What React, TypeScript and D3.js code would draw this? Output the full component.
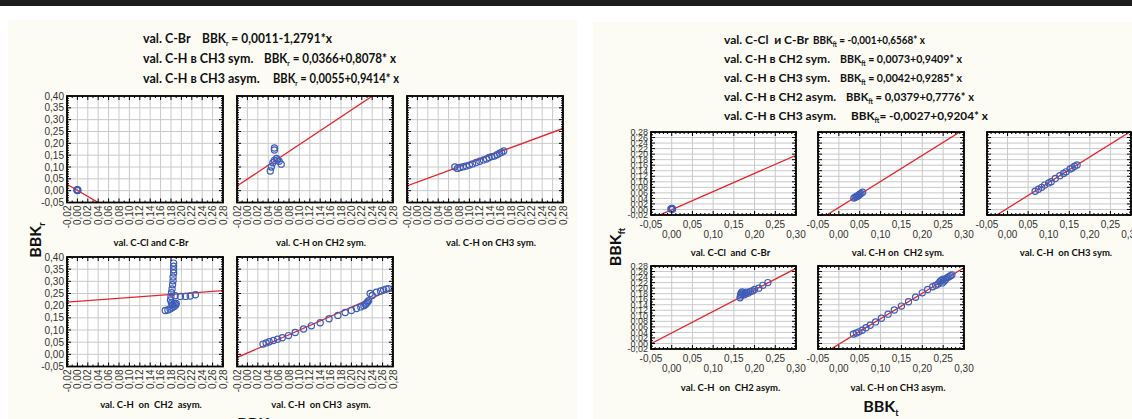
import React from "react";
import * as d3 from "d3";

type Pt = [number, number];

// ---------- LEFT PANEL (BBK_r) ----------
const leftXTicks = [-0.02, 0, 0.02, 0.04, 0.06, 0.08, 0.1, 0.12, 0.14, 0.16, 0.18, 0.2, 0.22, 0.24, 0.26, 0.28];
const leftYTicks = [-0.05, 0, 0.05, 0.1, 0.15, 0.2, 0.25, 0.3, 0.35, 0.4];

const lCClBr: Pt[] = [[0.0, 0.004], [0.001, 0.002], [-0.001, 0.003], [0.0, 0.001]];
const lCH2sym: Pt[] = [[0.044, 0.083], [0.046, 0.1], [0.049, 0.118], [0.052, 0.128], [0.056, 0.136], [0.052, 0.172], [0.052, 0.18], [0.058, 0.13], [0.061, 0.124], [0.065, 0.112]];
const lCH3sym: Pt[] = [[0.072, 0.1], [0.077, 0.094], [0.082, 0.098], [0.088, 0.101], [0.094, 0.104], [0.1, 0.108], [0.106, 0.113], [0.113, 0.119], [0.12, 0.124], [0.127, 0.13], [0.133, 0.134], [0.138, 0.14], [0.143, 0.144], [0.148, 0.146], [0.153, 0.152], [0.158, 0.158], [0.162, 0.162], [0.166, 0.168]];
const lCH2asym: Pt[] = [[0.185, 0.375], [0.185, 0.362], [0.185, 0.348], [0.185, 0.334], [0.184, 0.318], [0.184, 0.302], [0.183, 0.286], [0.182, 0.269], [0.181, 0.253], [0.18, 0.238], [0.179, 0.223], [0.181, 0.211], [0.183, 0.204], [0.186, 0.209], [0.188, 0.241], [0.198, 0.238], [0.208, 0.238], [0.217, 0.24], [0.227, 0.245], [0.169, 0.18], [0.174, 0.182], [0.178, 0.186], [0.182, 0.191], [0.186, 0.197], [0.189, 0.203], [0.19, 0.209]];
const lCH3asym: Pt[] = [[0.03, 0.042], [0.036, 0.047], [0.042, 0.052], [0.05, 0.057], [0.058, 0.062], [0.067, 0.068], [0.079, 0.077], [0.092, 0.09], [0.108, 0.104], [0.123, 0.117], [0.14, 0.13], [0.157, 0.146], [0.174, 0.16], [0.188, 0.172], [0.2, 0.18], [0.21, 0.188], [0.218, 0.195], [0.224, 0.2], [0.227, 0.205], [0.229, 0.21], [0.231, 0.215], [0.233, 0.22], [0.236, 0.25], [0.24, 0.242], [0.248, 0.255], [0.256, 0.26], [0.262, 0.265], [0.267, 0.268], [0.271, 0.27]];

// regression coefficients [intercept, slope]
const lCoefCClBr: Pt = [0.0011, -1.2791];
const lCoefCH2sym: Pt = [0.049, 1.46];
const lCoefCH3sym: Pt = [0.0366, 0.8078];
const lCoefCH2asym: Pt = [0.218, 0.157];
const lCoefCH3asym: Pt = [0.0055, 0.9414];

const leftTitles = [
  { name: "val. C-Br", sub: "r", eq: " = 0,0011-1,2791*x" },
  { name: "val. C-H в CH3 sym.", sub: "r", eq: " = 0,0366+0,8078* x" },
  { name: "val. C-H в CH3 asym.", sub: "r", eq: " = 0,0055+0,9414* x" },
];
const leftSubtitles = ["val. C-Cl and C-Br", "val. C-H on CH2 sym.", "val. C-H on CH3 sym.", "val. C-H  on  CH2  asym.", "val. C-H  on CH3  asym."];

// ---------- RIGHT PANEL (BBK_ft) ----------
const rightXTicks = [-0.05, 0, 0.05, 0.1, 0.15, 0.2, 0.25, 0.3];
const rightYTicks = [-0.02, 0, 0.02, 0.04, 0.06, 0.08, 0.1, 0.12, 0.14, 0.16, 0.18, 0.2, 0.22, 0.24, 0.26, 0.28];

const rCClBr: Pt[] = [[0.0, 0.003], [0.002, 0.001], [-0.002, 0.002], [0.001, 0.004]];
const rCH2sym: Pt[] = [[0.036, 0.041], [0.039, 0.044], [0.042, 0.046], [0.044, 0.048], [0.046, 0.05], [0.048, 0.052], [0.05, 0.055], [0.053, 0.058], [0.057, 0.062]];
const rCH3sym: Pt[] = [[0.067, 0.066], [0.075, 0.073], [0.083, 0.08], [0.09, 0.088], [0.1, 0.096], [0.106, 0.1], [0.116, 0.112], [0.127, 0.122], [0.136, 0.13], [0.142, 0.136], [0.152, 0.146], [0.157, 0.15], [0.163, 0.156], [0.169, 0.161]];
const rCH2asym: Pt[] = [[0.165, 0.165], [0.166, 0.172], [0.167, 0.178], [0.168, 0.183], [0.17, 0.186], [0.172, 0.18], [0.175, 0.176], [0.178, 0.18], [0.18, 0.185], [0.185, 0.182], [0.19, 0.188], [0.195, 0.19], [0.2, 0.195], [0.21, 0.2], [0.22, 0.21], [0.232, 0.22]];
const rCH3asym: Pt[] = [[0.035, 0.034], [0.042, 0.038], [0.048, 0.042], [0.056, 0.048], [0.065, 0.057], [0.075, 0.066], [0.088, 0.078], [0.102, 0.091], [0.118, 0.106], [0.133, 0.121], [0.15, 0.135], [0.167, 0.151], [0.184, 0.167], [0.2, 0.183], [0.213, 0.195], [0.225, 0.205], [0.232, 0.21], [0.238, 0.215], [0.242, 0.222], [0.245, 0.228], [0.248, 0.219], [0.25, 0.232], [0.253, 0.226], [0.256, 0.232], [0.26, 0.238], [0.264, 0.241], [0.268, 0.245], [0.271, 0.248]];

const rCoefCClBr: Pt = [-0.001, 0.6568];
const rCoefCH2sym: Pt = [0.0073, 0.9409];
const rCoefCH3sym: Pt = [0.0042, 0.9285];
const rCoefCH2asym: Pt = [0.0379, 0.7776];
const rCoefCH3asym: Pt = [-0.0027, 0.9204];

const rightTitles = [
  { name: "val. C-Cl  и C-Br", sub: "ft", eq: " = -0,001+0,6568* x" },
  { name: "val. C-H в CH2 sym.", sub: "ft", eq: " = 0,0073+0,9409* x" },
  { name: "val. C-H в CH3 sym.", sub: "ft", eq: " = 0,0042+0,9285* x" },
  { name: "val. C-H в CH2 asym.", sub: "ft", eq: " = 0,0379+0,7776* x" },
  { name: "val. C-H в CH3 asym.", sub: "ft", eq: "= -0,0027+0,9204* x" },
];
const rightSubtitles = ["val. C-Cl  and  C-Br", "val. C-H on  CH2 sym.", "val. C-H  on CH3 sym.", "val. C-H  on  CH2 asym.", "val. C-H on CH3 asym."];

// ---------- styling ----------
const TICK_FONT = "'Liberation Sans', Arial, sans-serif";
const TITLE_FONT = "Lato, 'Open Sans', sans-serif";
const LINE_COLOR = "#e8252b";
const PT_COLOR = "#3e5db8";
const GRID = "#c9c9c9";

const fmt = (v: number) => {
  const s = Math.abs(v).toFixed(2).replace(".", ",");
  return (v < -1e-9 ? "-" : "") + s;
};

type Frame = { x: number; y: number; w: number; h: number };

function Plot(props: {
  id: string;
  f: Frame;
  xd: [number, number];
  yd: [number, number];
  xt: number[];
  yt: number[];
  xMinor: number;
  yMinor: number;
  pts: Pt[];
  coef: Pt;
  mode: "rotated" | "staggered";
  yFont: number;
  showY: boolean;
}) {
  const { id, f, xd, yd, xt, yt, xMinor, yMinor, pts, coef, mode, yFont, showY } = props;
  const xs = d3.scaleLinear().domain(xd).range([f.x, f.x + f.w]);
  const ys = d3.scaleLinear().domain(yd).range([f.y + f.h, f.y]);
  const line = d3
    .line<number>()
    .x((v) => xs(v))
    .y((v) => ys(coef[0] + coef[1] * v));
  const xMin = d3.range(Math.round((xd[1] - xd[0]) / xMinor) + 1).map((i) => xd[0] + i * xMinor);
  const yMin = d3.range(Math.round((yd[1] - yd[0]) / yMinor) + 1).map((i) => yd[0] + i * yMinor);
  const bottom = f.y + f.h;
  const right = f.x + f.w;
  return (
    <g>
      <defs>
        <clipPath id={id}>
          <rect x={f.x} y={f.y} width={f.w} height={f.h} />
        </clipPath>
      </defs>
      <rect x={f.x} y={f.y} width={f.w} height={f.h} fill="#ffffff" />
      {xt.map((v, i) => (
        <line key={"gx" + i} x1={xs(v)} x2={xs(v)} y1={f.y} y2={bottom} stroke={GRID} strokeWidth={1} />
      ))}
      {yt.map((v, i) => (
        <line key={"gy" + i} x1={f.x} x2={right} y1={ys(v)} y2={ys(v)} stroke={GRID} strokeWidth={1} />
      ))}
      <g clipPath={`url(#${id})`}>
        <path d={line(xd) || ""} stroke={LINE_COLOR} strokeWidth={1.3} fill="none" />
        {pts.map((p, i) => (
          <circle key={"p" + i} cx={xs(p[0])} cy={ys(p[1])} r={3.1} fill="none" stroke={PT_COLOR} strokeWidth={1.2} />
        ))}
      </g>
      {xMin.map((v, i) => {
        const major = xt.some((t) => Math.abs(t - v) < 1e-6);
        const l = major ? 4 : 2;
        return (
          <g key={"tx" + i}>
            <line x1={xs(v)} x2={xs(v)} y1={f.y} y2={f.y + l} stroke="#000" strokeWidth={1} />
            <line x1={xs(v)} x2={xs(v)} y1={bottom} y2={bottom - l} stroke="#000" strokeWidth={1} />
          </g>
        );
      })}
      {yMin.map((v, i) => {
        const major = yt.some((t) => Math.abs(t - v) < 1e-6);
        const l = major ? 4 : 2;
        return (
          <g key={"ty" + i}>
            <line x1={f.x} x2={f.x + l} y1={ys(v)} y2={ys(v)} stroke="#000" strokeWidth={1} />
            <line x1={right} x2={right - l} y1={ys(v)} y2={ys(v)} stroke="#000" strokeWidth={1} />
          </g>
        );
      })}
      <rect x={f.x} y={f.y} width={f.w} height={f.h} fill="none" stroke="#000" strokeWidth={1.8} />
      {showY &&
        yt.map((v, i) => (
          <text key={"yl" + i} x={f.x - 3} y={ys(v)} dy="0.35em" textAnchor="end" fontSize={yFont} fontFamily={TICK_FONT} fill="#333">
            {fmt(v)}
          </text>
        ))}
      {mode === "rotated"
        ? xt.map((v, i) => (
            <text
              key={"xl" + i}
              transform={`translate(${xs(v)},${bottom + 3}) rotate(-90)`}
              dy="0.35em"
              textAnchor="end"
              fontSize={10}
              fontFamily={TICK_FONT}
              fill="#333"
            >
              {fmt(v)}
            </text>
          ))
        : xt.map((v, i) => (
            <text key={"xl" + i} x={xs(v)} y={bottom + (i % 2 === 0 ? 13 : 23)} textAnchor="middle" fontSize={10} fontFamily={TICK_FONT} fill="#333">
              {fmt(v)}
            </text>
          ))}
    </g>
  );
}

function Title(props: { x: number; eqX: number; eqW: number; y: number; size: number; t: { name: string; sub: string; eq: string } }) {
  const { x, eqX, eqW, y, t, size } = props;
  return (
    <g fontFamily={TITLE_FONT} fontWeight="bold" fill="#111" fontSize={size}>
      <text x={x} y={y} style={{ whiteSpace: "pre" }}>{t.name}</text>
      <text x={eqX} y={y} textLength={eqW} lengthAdjust="spacingAndGlyphs">
        BBK
        <tspan fontSize={7} dy={3}>{t.sub}</tspan>
        <tspan dy={-3}>{t.eq}</tspan>
      </text>
    </g>
  );
}

export default function App() {
  const LF = { top: { y: 96, h: 106.5 }, bot: { y: 257, h: 109.5 } };
  const lx = [67, 237, 407];
  const lw = 156;
  const rTopY = 132;
  const rBotY = 266;
  const rh = 83;
  const rx = [651, 818, 987];
  const rw = [145, 146, 144];

  const leftPlots = [
    { pts: lCClBr, coef: lCoefCClBr, f: { x: lx[0], y: LF.top.y, w: lw, h: LF.top.h } },
    { pts: lCH2sym, coef: lCoefCH2sym, f: { x: lx[1], y: LF.top.y, w: lw, h: LF.top.h } },
    { pts: lCH3sym, coef: lCoefCH3sym, f: { x: lx[2], y: LF.top.y, w: lw, h: LF.top.h } },
    { pts: lCH2asym, coef: lCoefCH2asym, f: { x: lx[0], y: LF.bot.y, w: lw, h: LF.bot.h } },
    { pts: lCH3asym, coef: lCoefCH3asym, f: { x: lx[1], y: LF.bot.y, w: lw, h: LF.bot.h } },
  ];
  const rightPlots = [
    { pts: rCClBr, coef: rCoefCClBr, f: { x: rx[0], y: rTopY, w: rw[0], h: rh } },
    { pts: rCH2sym, coef: rCoefCH2sym, f: { x: rx[1], y: rTopY, w: rw[1], h: rh } },
    { pts: rCH3sym, coef: rCoefCH3sym, f: { x: rx[2], y: rTopY, w: rw[2], h: rh } },
    { pts: rCH2asym, coef: rCoefCH2asym, f: { x: rx[0], y: rBotY, w: rw[0], h: rh } },
    { pts: rCH3asym, coef: rCoefCH3asym, f: { x: rx[1], y: rBotY, w: rw[1], h: rh } },
  ];
  const leftEqX = [202, 264, 273];
  const leftEqW = [130, 132, 126];
  const rightEqX = [813, 840, 840, 846, 851];
  const rightEqW = [112, 122, 122, 128, 137];
  const leftTitleY = [43, 63, 83];
  const rightTitleY = [44, 63, 82, 101, 120];

  return (
    <svg width={1132} height={419} style={{ position: "absolute", left: 0, top: 0, display: "block", background: "#fff" }}>
      <rect x={0} y={0} width={1132} height={6} fill="#1c1c1c" />
      <rect x={8} y={20} width={569} height={399} fill="#fcfcf5" />
      <rect x={593} y={22} width={539} height={397} fill="#fcfcf5" />

      {leftTitles.map((t, i) => (
        <Title key={"lt" + i} x={143} eqX={leftEqX[i]} eqW={leftEqW[i]} y={leftTitleY[i]} size={12.5} t={t} />
      ))}
      {rightTitles.map((t, i) => (
        <Title key={"rt" + i} x={724} eqX={rightEqX[i]} eqW={rightEqW[i]} y={rightTitleY[i]} size={12} t={t} />
      ))}

      {leftPlots.map((p, i) => (
        <Plot
          key={"lp" + i}
          id={"clipL" + i}
          f={p.f}
          xd={[-0.02, 0.28]}
          yd={[-0.05, 0.4]}
          xt={leftXTicks}
          yt={leftYTicks}
          xMinor={0.01}
          yMinor={0.01}
          pts={p.pts}
          coef={p.coef}
          mode="rotated"
          yFont={10}
          showY={i === 0 || i === 3}
        />
      ))}
      {rightPlots.map((p, i) => (
        <Plot
          key={"rp" + i}
          id={"clipR" + i}
          f={p.f}
          xd={[-0.05, 0.3]}
          yd={[-0.02, 0.28]}
          xt={rightXTicks}
          yt={rightYTicks}
          xMinor={0.01}
          yMinor={0.01}
          pts={p.pts}
          coef={p.coef}
          mode="staggered"
          yFont={9}
          showY={i === 0 || i === 3}
        />
      ))}

      <g fontFamily={TITLE_FONT} fontWeight="bold" fontSize={9.5} fill="#111" textAnchor="middle">
        {leftSubtitles.map((s, i) => {
          const p = leftPlots[i].f;
          return (
            <text key={"ls" + i} x={p.x + p.w / 2 + 6} y={i < 3 ? 246 : 408} style={{ whiteSpace: "pre" }}>
              {s}
            </text>
          );
        })}
        {rightSubtitles.map((s, i) => {
          const p = rightPlots[i].f;
          return (
            <text key={"rs" + i} x={p.x + p.w / 2 + 7} y={i < 3 ? 256 : 391} style={{ whiteSpace: "pre" }}>
              {s}
            </text>
          );
        })}
      </g>

      <g fontFamily={TITLE_FONT} fontWeight="bold" fill="#111">
        <text transform="translate(41,240) rotate(-90)" textAnchor="middle" fontSize={16}>
          BBK<tspan fontSize={9} dy={4}>r</tspan>
        </text>
        <text x={255} y={429} textAnchor="middle" fontSize={16}>
          BBK<tspan fontSize={9} dy={4}>r</tspan>
        </text>
        <text transform="translate(621,247) rotate(-90)" textAnchor="middle" fontSize={16}>
          BBK<tspan fontSize={9} dy={4}>ft</tspan>
        </text>
        <text x={881} y={412} textAnchor="middle" fontSize={16}>
          BBK<tspan fontSize={9} dy={4}>t</tspan>
        </text>
      </g>
    </svg>
  );
}
